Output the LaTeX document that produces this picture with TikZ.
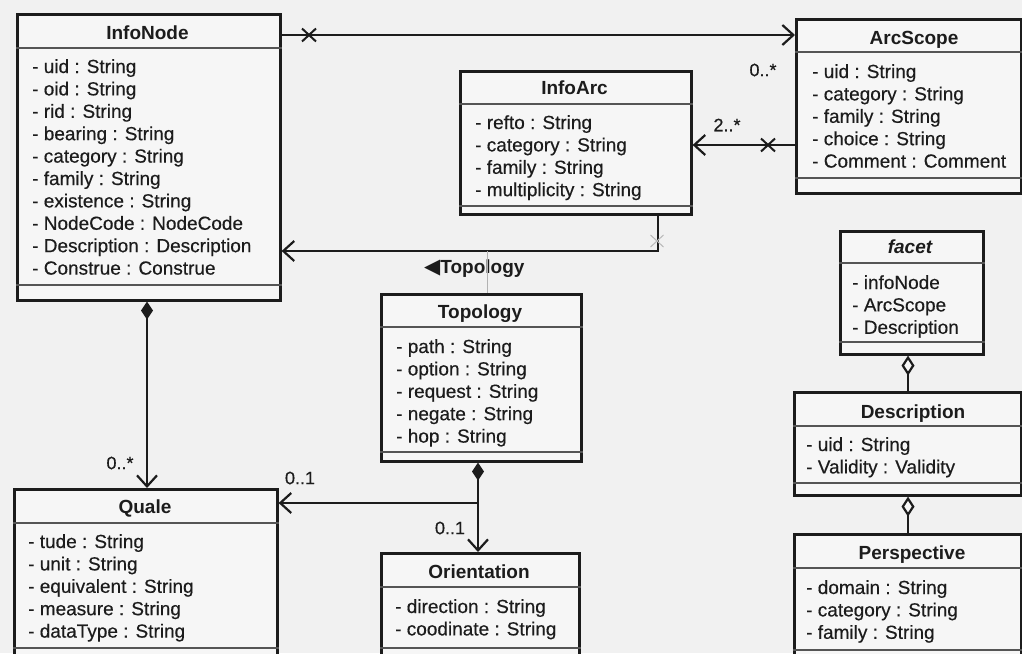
\documentclass[tikz,border=0pt]{standalone}
\usepackage{fontspec}
\setmainfont{Liberation Sans}
\newfontfamily\medfont[FakeBold=0.4]{Liberation Sans}
\newfontfamily\symfont{DejaVu Sans}
\usetikzlibrary{arrows.meta,shapes.misc,calc}
\definecolor{bg}{HTML}{F1F1F1}
\definecolor{boxfill}{HTML}{F6F6F6}
\definecolor{ink}{HTML}{1C1C1C}
\definecolor{sepc}{HTML}{555555}
\tikzset{
  cls/.style={draw=ink, line width=2.6pt, fill=boxfill, inner sep=0pt, anchor=north west},
  ctitle/.style={font=\fontsize{19}{22}\selectfont\bfseries, text=ink, anchor=base, inner sep=0pt},
  attr/.style={font=\medfont\fontsize{19}{22}\selectfont, text=ink, anchor=base west, inner sep=0pt},
  mult/.style={font=\medfont\fontsize{18}{22}\selectfont, text=ink, inner sep=0pt},
  sepline/.style={draw=sepc, line width=1.3pt},
  conn/.style={draw=ink, line width=2.2pt},
  opentip/.style={-{Straight Barb[length=11pt,width=20pt]}},
  xmark/.style={cross out, draw=ink, line width=2pt, minimum width=12pt, minimum height=11pt, inner sep=0pt},
}
\newcommand\classbox[5]{\node[cls, minimum width={#4-#2}, minimum height={#5-#3}] (#1) at (#2,#3) {};}
\newcommand\csep[2]{\draw[sepline] (#1.west |- 0,#2) -- (#1.east |- 0,#2);}
\newcommand\cattrs[4]{\foreach \t [count=\i] in {#4} {\node[attr] (#1-a\i) at (#2,{#3+(\i-1)*22.4}) {\t};}}
\begin{document}
\begin{tikzpicture}[x=1pt,y=-1pt]
\fill[bg] (0,0) rectangle (1022,653);
\useasboundingbox (0,0) rectangle (1022,653);
\clip (0,0) rectangle (1022,653);

% boxes
\classbox{infonode}{16}{13}{279}{299}
\classbox{infoarc}{459}{70}{690}{213}
\classbox{arcscope}{795}{18}{1020}{192}
\classbox{facet}{839}{230}{982}{353}
\classbox{description}{793}{391}{1020}{494}
\classbox{perspective}{793}{533}{1020}{670}
\classbox{topology}{380}{293}{580}{460}
\classbox{quale}{13}{488}{276}{670}
\classbox{orientation}{380}{552}{578}{670}

% separators
\csep{infonode}{48}\csep{infonode}{285}
\csep{infoarc}{104}\csep{infoarc}{206}
\csep{arcscope}{52}\csep{arcscope}{178}
\csep{facet}{263}\csep{facet}{342}
\csep{description}{426}\csep{description}{483}
\csep{perspective}{568}\csep{perspective}{650}
\csep{topology}{327}\csep{topology}{452}
\csep{quale}{523}\csep{quale}{648}
\csep{orientation}{587}\csep{orientation}{648}

% titles
\node[ctitle] (infonode-t) at (147.5,39) {InfoNode};
\node[ctitle] (infoarc-t) at (574.5,94) {InfoArc};
\node[ctitle] (arcscope-t) at (914,44) {ArcScope};
\node[ctitle, font=\fontsize{19}{22}\selectfont\bfseries\itshape] (facet-t) at (910,253) {facet};
\node[ctitle] (description-t) at (913,418) {Description};
\node[ctitle] (perspective-t) at (912,559) {Perspective};
\node[ctitle] (topology-t) at (480,318) {Topology};
\node[ctitle] (quale-t) at (145,513) {Quale};
\node[ctitle] (orientation-t) at (479,578) {Orientation};

% attributes
\cattrs{infonode}{32}{73}{- uid : String,- oid : String,- rid : String,- bearing : String,- category : String,- family : String,- existence : String,- NodeCode : NodeCode,- Description : Description,- Construe : Construe}
\cattrs{infoarc}{475}{129}{- refto : String,- category : String,- family : String,- multiplicity : String}
\cattrs{arcscope}{812}{78}{- uid : String,- category : String,- family : String,- choice : String,- Comment : Comment}
\cattrs{facet}{852}{289}{- infoNode,- ArcScope,- Description}
\cattrs{description}{806}{451}{- uid : String,- Validity : Validity}
\cattrs{perspective}{806}{594}{- domain : String,- category : String,- family : String}
\cattrs{topology}{396}{353}{- path : String,- option : String,- request : String,- negate : String,- hop : String}
\cattrs{quale}{28}{548}{- tude : String,- unit : String,- equivalent : String,- measure : String,- dataType : String}
\cattrs{orientation}{395}{613}{- direction : String,- coodinate : String}

% connectors
\draw[conn, opentip] (infonode.east |- 0,35) -- (arcscope.west |- 0,35);
\node[xmark] (x1) at (309,35) {};
\node[mult] (m1) at (763,70) {0..*};

\draw[conn, opentip] (arcscope.west |- 0,145) -- (infoarc.east |- 0,145);
\node[xmark] (x2) at (768,145) {};
\node[mult] (m2) at (727,125) {2..*};

\coordinate (tjoin) at (487,251);
\draw[conn, opentip] (infoarc.south -| 658,0) |- (infonode.east |- tjoin);
\node[xmark, draw=gray!55, line width=1pt] (x3) at (657,241) {};
\node[ctitle, anchor=base west] (tlabel) at (424,273) {{\symfont\fontsize{21}{22}\selectfont ◀}Topology};
\draw[draw=gray!60, line width=0.8pt] (tjoin) -- (topology.north -| tjoin);

\draw[conn, {Diamond[length=18pt,width=12pt]}-{Straight Barb[length=11pt,width=20pt]}] (infonode.south -| 147,0) -- (quale.north -| 147,0);
\node[mult] (m3) at (120,463) {0..*};

\coordinate (tb) at (478,503);
\draw[conn, {Diamond[length=18pt,width=12pt]}-{Straight Barb[length=11pt,width=20pt]}] (topology.south -| tb) -- (orientation.north -| tb);
\draw[conn, opentip] (tb) -- (quale.east |- tb);
\node[mult] (m4) at (300,478) {0..1};
\node[mult] (m5) at (450,528) {0..1};

\coordinate (ax) at (908,0);
\draw[conn, {Diamond[open,fill=boxfill,length=20pt,width=13pt]}-] (facet.south -| ax) -- (description.north -| ax);
\draw[conn, {Diamond[open,fill=boxfill,length=20pt,width=13pt]}-] (description.south -| ax) -- (perspective.north -| ax);
\end{tikzpicture}
\end{document}
